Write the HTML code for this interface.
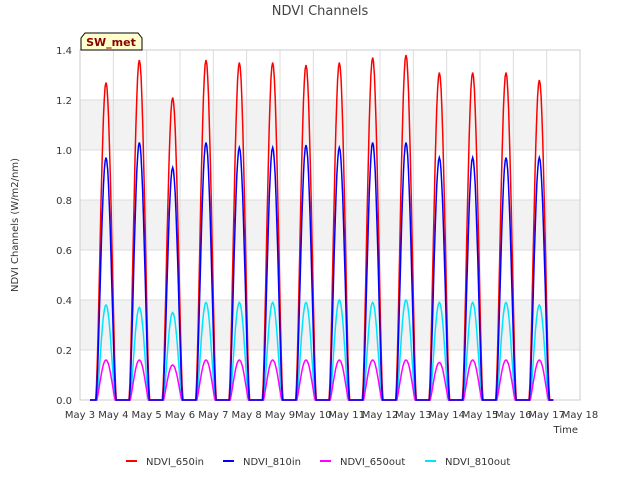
<!DOCTYPE html>
<html><head><meta charset="utf-8"><style>
body{margin:0;background:#fff;font-family:"Liberation Sans","DejaVu Sans",sans-serif}
svg text{font-family:"DejaVu Sans","Liberation Sans",sans-serif}
</style></head><body>
<svg id="c" width="640" height="480" xmlns="http://www.w3.org/2000/svg"></svg>
<script>
const days=["May 3","May 4","May 5","May 6","May 7","May 8","May 9","May 10","May 11","May 12","May 13","May 14","May 15","May 16","May 17","May 18"];
const yTicks=["0.0","0.2","0.4","0.6","0.8","1.0","1.2","1.4"];
const in650=[1.27,1.36,1.21,1.36,1.35,1.35,1.34,1.35,1.37,1.38,1.31,1.31,1.31,1.28];
const in810=[0.97,1.03,0.93,1.03,1.01,1.01,1.02,1.01,1.03,1.03,0.97,0.97,0.97,0.97];
const out650=[0.16,0.16,0.14,0.16,0.16,0.16,0.16,0.16,0.16,0.16,0.15,0.16,0.16,0.16];
const out810=[0.38,0.37,0.35,0.39,0.39,0.39,0.39,0.40,0.39,0.40,0.39,0.39,0.39,0.38];
const NS="http://www.w3.org/2000/svg",svg=document.getElementById('c');
const X0=80,X1=580,Y0=400,Y1=50;
const x=d=>X0+(X1-X0)*d/15, y=v=>Y0-(Y0-Y1)*v/1.4;
function mk(t,a,p){const e=document.createElementNS(NS,t);for(const k in a)e.setAttribute(k,a[k]);(p||svg).appendChild(e);return e;}
let r=mk('rect',{x:X0,y:Y1,width:X1-X0,height:Y0-Y1,fill:'#fff'});

[[0.2,0.4],[0.6,0.8],[1.0,1.2]].forEach(b=>{let e=mk('rect',{x:X0,y:y(b[1]),width:X1-X0,height:y(b[0])-y(b[1]),fill:'#f2f2f2'});
});
yTicks.forEach(t=>{const v=+t;let l=mk('line',{x1:X0,x2:X1,y1:y(v),y2:y(v),stroke:'#dcdcdc'});

let tx=mk('text',{x:X0-8,y:y(v)+4,'text-anchor':'end','font-size':10,fill:'#333'});tx.textContent=t;
});
days.forEach((d,i)=>{let l=mk('line',{x1:x(i),x2:x(i),y1:Y1,y2:Y0,stroke:'#dcdcdc'});

let tx=mk('text',{x:x(i),y:Y0+18,'text-anchor':'middle','font-size':10,fill:'#333'});tx.textContent=d;
});
let ax=mk('rect',{x:X0,y:Y1,width:X1-X0,height:Y0-Y1,fill:'none',stroke:'#ccc'});

function series(arr,col,w,pw){let pts=[[x(0.3),y(0)]];
arr.forEach((p,i)=>{const c=i+0.78,h=w/2;pts.push([x(c-h-0.05),y(0)]);
for(let k=0;k<=24;k++){const u=k/24;pts.push([x(c-h+u*w),y(p*Math.pow(Math.sin(Math.PI*u),pw))]);}
pts.push([x(c+h+0.05),y(0)]);});
pts.push([x(14.2),y(0)]);
let e=mk('polyline',{points:pts.map(q=>q.map(n=>n.toFixed(1)).join(',')).join(' '),fill:'none',stroke:col,'stroke-width':1.5});
return e;}
let s;
s=series(out810,'#00e5ff',0.55,1.3);
s=series(out650,'#ff00ff',0.55,1.2);
s=series(in650,'#ff0000',0.62,1.5);
s=series(in810,'#0000ff',0.6,1.5);
let t=mk('text',{x:320,y:15,'text-anchor':'middle','font-size':13,fill:'#444'});t.textContent='NDVI Channels';

t=mk('text',{x:18,y:225,'text-anchor':'middle','font-size':10,fill:'#333',transform:'rotate(-90 18 225)'});t.textContent='NDVI Channels (W/m2/nm)';

t=mk('text',{x:578,y:433,'text-anchor':'end','font-size':10,fill:'#333'});t.textContent='Time';

let g=mk('g',{});
mk('path',{d:'M81,50 V38 l4,-5 H138 l4,5 V50 Z',fill:'#ffffcc',stroke:'#000'},g);
t=mk('text',{x:111,y:46,'text-anchor':'middle','font-size':11,'font-weight':'bold',fill:'#8b0000'},g);t.textContent='SW_met';
const names=["NDVI_650in","NDVI_810in","NDVI_650out","NDVI_810out"],cols=['#ff0000','#0000ff','#ff00ff','#00e5ff'],lx=[126,223,320,425];
names.forEach((n,i)=>{let lg=mk('g',{});
mk('line',{x1:lx[i],x2:lx[i]+11,y1:461,y2:461,stroke:cols[i],'stroke-width':2},lg);
let tt=mk('text',{x:lx[i]+20,y:465,'font-size':10,fill:'#333'},lg);tt.textContent=n;});
</script>
</body></html>
